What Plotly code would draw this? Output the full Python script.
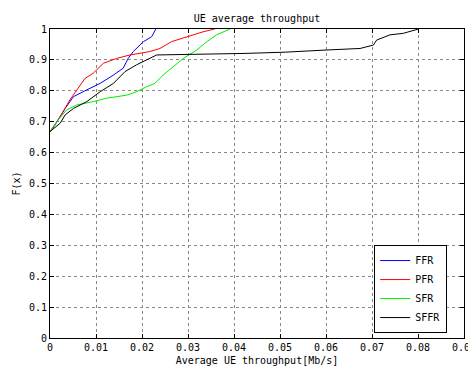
import plotly.graph_objects as go

ffr_x = [0.0, 0.0004, 0.0033, 0.0051, 0.008, 0.0109, 0.0138, 0.0159, 0.017, 0.0181, 0.0203, 0.0221, 0.023]
ffr_y = [0.668, 0.673, 0.743, 0.781, 0.803, 0.824, 0.851, 0.873, 0.905, 0.927, 0.959, 0.975, 1.0]

pfr_x = [0.0, 0.0022, 0.0043, 0.0065, 0.0076, 0.0094, 0.0116, 0.0145, 0.0174, 0.0217, 0.0239, 0.0264, 0.0297, 0.0333, 0.0358]
pfr_y = [0.668, 0.716, 0.770, 0.819, 0.840, 0.857, 0.889, 0.905, 0.916, 0.927, 0.937, 0.959, 0.975, 0.991, 1.0]

sfr_x = [0.0, 0.0018, 0.0036, 0.0058, 0.0094, 0.0123, 0.0167, 0.0188, 0.021, 0.0228, 0.0246, 0.0268, 0.029, 0.0319, 0.0341, 0.0362, 0.0391]
sfr_y = [0.668, 0.706, 0.738, 0.754, 0.765, 0.776, 0.786, 0.797, 0.813, 0.824, 0.851, 0.878, 0.905, 0.932, 0.959, 0.981, 1.0]

sffr_x = [0.0, 0.0022, 0.0033, 0.0051, 0.008, 0.0109, 0.0138, 0.0163, 0.0188, 0.0217, 0.0232, 0.0424, 0.0511, 0.0601, 0.0674, 0.0703, 0.071, 0.0739, 0.0768, 0.0801]
sffr_y = [0.668, 0.695, 0.722, 0.743, 0.765, 0.797, 0.824, 0.862, 0.884, 0.905, 0.916, 0.921, 0.925, 0.932, 0.937, 0.948, 0.964, 0.981, 0.986, 1.0]

series = [
    ("FFR", ffr_x, ffr_y, "#0000ff"),
    ("PFR", pfr_x, pfr_y, "#ff0000"),
    ("SFR", sfr_x, sfr_y, "#00ee00"),
    ("SFFR", sffr_x, sffr_y, "#000000"),
]

x_ticks = [0, 0.01, 0.02, 0.03, 0.04, 0.05, 0.06, 0.07, 0.08, 0.09]
x_labels = ["0", "0.01", "0.02", "0.03", "0.04", "0.05", "0.06", "0.07", "0.08", "0.09"]
y_ticks = [0, 0.1, 0.2, 0.3, 0.4, 0.5, 0.6, 0.7, 0.8, 0.9, 1]
y_labels = ["0", "0.1", "0.2", "0.3", "0.4", "0.5", "0.6", "0.7", "0.8", "0.9", "1"]

FONT = "DejaVu Sans Mono"
W, H = 468, 362  # page body has an 8px margin

fig = go.Figure()
for name, xs, ys, col in series:
    fig.add_trace(go.Scatter(x=xs, y=ys, mode="lines", name=name,
                             line=dict(color=col, width=1)))

axis_common = dict(
    showline=True, linecolor="black", linewidth=1, mirror="ticks",
    ticks="inside", ticklen=4, tickcolor="black", automargin=False,
    showgrid=True, gridcolor="#888888", griddash="dot", gridwidth=1,
    zeroline=False, ticklabeloverflow="allow",
    tickfont=dict(family=FONT, size=10, color="black"),
)

fig.update_layout(
    width=W, height=H,
    margin=dict(l=42, r=12, t=21, b=32),
    paper_bgcolor="white", plot_bgcolor="white",
    title=dict(text="UE average throughput", x=249/W, xanchor="center",
               y=1 - 10/H, yanchor="middle", automargin=False,
               font=dict(family=FONT, size=10, color="black")),
    xaxis=dict(range=[0, 0.09], tickvals=x_ticks, ticktext=x_labels,
               title=dict(text="Average UE throughput[Mb/s]", standoff=4,
                          font=dict(family=FONT, size=10, color="black")),
               **axis_common),
    yaxis=dict(range=[0, 1], tickvals=y_ticks, ticktext=y_labels,
               title=dict(text="F(x)", standoff=6,
                          font=dict(family=FONT, size=10, color="black")),
               **axis_common),
    legend=dict(x=0.783, y=0.016, xanchor="left", yanchor="bottom",
                bgcolor="white", bordercolor="black", borderwidth=1,
                font=dict(family=FONT, size=10, color="black"),
                tracegroupgap=0, itemwidth=30),
    showlegend=True,
)

fig.write_html("out.html")
